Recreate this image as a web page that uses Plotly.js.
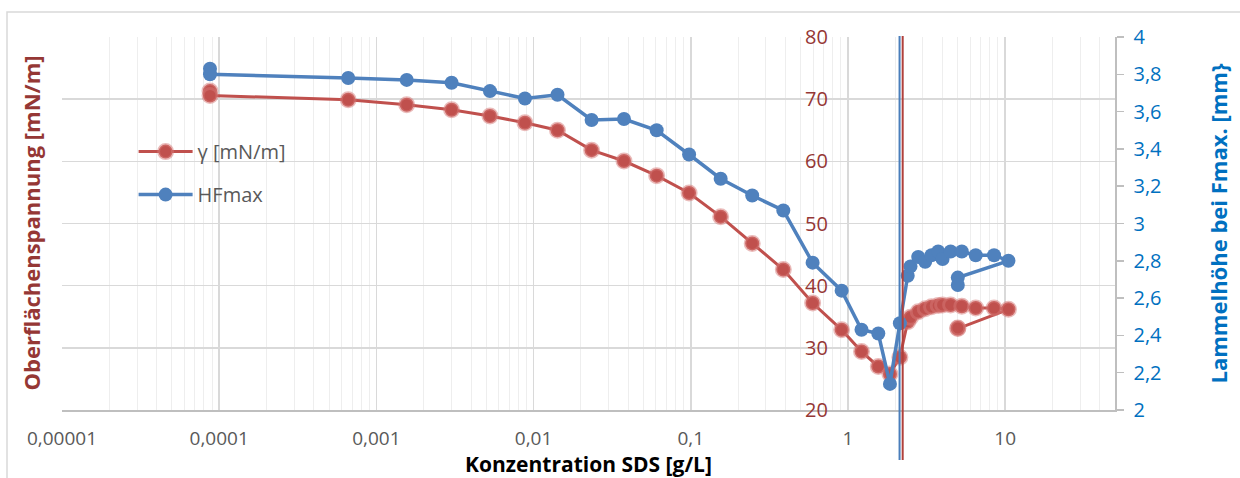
<!DOCTYPE html>
<html>
<head>
<meta charset="utf-8">
<script src="https://cdn.plot.ly/plotly-3.0.1.min.js"></script>
<style>
  html, body { margin: 0; padding: 0; background: #ffffff; }
  #chart { width: 1240px; height: 478px; }
</style>
</head>
<body>
<div id="chart"></div>
<script>
// ---- Data ----
const concentration = [
  0.0000874, 0.0000874, 0.000662, 0.00156, 0.00301, 0.00528, 0.00881, 0.0142,
  0.0234, 0.0376, 0.0607, 0.0976, 0.155, 0.246, 0.388, 0.596, 0.912,
  1.22, 1.56, 1.85, 2.14, 2.4, 2.5, 2.8, 3.1, 3.4, 3.75, 4.0, 4.5,
  5.3, 6.5, 8.5, 10.5, 5.0, 5.0
];
const gamma = [
  71.3, 70.6, 69.9, 69.1, 68.3, 67.3, 66.2, 65.0,
  61.8, 60.05, 57.7, 54.9, 51.1, 46.8, 42.6, 37.2, 32.9,
  29.4, 27.0, 25.8, 28.5, 34.2, 34.9, 35.8, 36.3, 36.6, 36.8, 36.9, 36.9,
  36.7, 36.4, 36.4, 36.2, 33.1, 33.2
];
const hfmax = [
  3.83, 3.80, 3.78, 3.77, 3.755, 3.71, 3.67, 3.69,
  3.555, 3.56, 3.50, 3.37, 3.24, 3.15, 3.07, 2.79, 2.64,
  2.43, 2.41, 2.14, 2.465, 2.72, 2.77, 2.82, 2.795, 2.83, 2.85, 2.81, 2.85,
  2.85, 2.83, 2.83, 2.80, 2.71, 2.67
];
// CMC marker lines (blue, red)
const cmcValues = [2.13, 2.23];
const cmcColors = ['#4A7EBB', '#B0403C'];

const xTickVals = [0.00001, 0.0001, 0.001, 0.01, 0.1, 1, 10];
const xTickText = ['0,00001', '0,0001', '0,001', '0,01', '0,1', '1', '10'];
const seriesNames = ['γ [mN/m]', 'HFmax'];

// ---- Layout geometry ----
const ML = 62, MR = 125, MT = 37, MB = 68, W = 1240, H = 478;
const PW = W - ML - MR, PH = H - MT - MB;
const xMin = -5, xMax = Math.log10(50);
const leftAxisPos = (0 - xMin) / (xMax - xMin); // vertical axis crosses at x = 1

const FONT = 'Open Sans, Noto Sans, sans-serif';
const RED = '#C0504D', BLUE = '#4F81BD';

const traces = [
  {
    x: concentration, y: gamma, name: seriesNames[0],
    type: 'scatter', mode: 'lines+markers', yaxis: 'y', legendgroup: 'a',
    line: { color: RED, width: 3 },
    marker: { color: RED, size: 14, line: { color: 'rgba(214,120,118,0.5)', width: 3 } },
    cliponaxis: false
  },
  {
    x: concentration, y: hfmax, name: seriesNames[1],
    type: 'scatter', mode: 'lines+markers', yaxis: 'y2', legendgroup: 'b',
    line: { color: BLUE, width: 3.5 },
    marker: { color: BLUE, size: 14 },
    cliponaxis: false
  }
];

const shapes = [
  // chart-area border
  { type: 'rect', xref: 'paper', yref: 'paper', layer: 'below',
    x0: (7 - ML) / PW, x1: (W + 20 - ML) / PW,
    y0: -(H + 20 - MT - PH) / PH, y1: 1 + (MT - 12) / PH,
    line: { color: '#d9d9d9', width: 1.5 }, fillcolor: 'rgba(0,0,0,0)' }
];
cmcValues.forEach((v, i) => {
  shapes.push({ type: 'line', xref: 'x', yref: 'paper', x0: v, x1: v,
    y0: -(460 - (MT + PH)) / PH, y1: 1 + 1 / PH,
    line: { color: cmcColors[i], width: 2 } });
});

const annotations = [
  { text: 'Oberflächenspannung [mN/m]', xref: 'paper', yref: 'paper',
    x: 0, y: 0.5, xshift: -(ML - 30), textangle: -90, showarrow: false,
    xanchor: 'center', yanchor: 'middle',
    font: { family: FONT, size: 22, color: '#953735', weight: 'bold' } },
  { text: 'Lammelhöhe bei Fmax. [mm}', xref: 'paper', yref: 'paper',
    x: 1, y: 0.5, xshift: 1217 - (W - MR), textangle: -90, showarrow: false,
    xanchor: 'center', yanchor: 'middle',
    font: { family: FONT, size: 22, color: '#0070C0', weight: 'bold' } }
];

const layout = {
  width: W, height: H,
  margin: { l: ML, r: MR, t: MT, b: MB, pad: 0 },
  paper_bgcolor: '#ffffff', plot_bgcolor: '#ffffff',
  separators: ', ',
  font: { family: FONT, color: '#595959' },
  showlegend: true,
  legend: {
    x: 0.068, y: 0.745, xanchor: 'left', yanchor: 'top',
    bgcolor: 'rgba(0,0,0,0)', traceorder: 'grouped', tracegroupgap: 14,
    itemwidth: 54,
    font: { family: FONT, size: 20, color: '#595959' }
  },
  xaxis: {
    type: 'log', range: [xMin, xMax],
    tickmode: 'array', tickvals: xTickVals, ticktext: xTickText,
    tickfont: { family: FONT, size: 19, color: '#595959' },
    ticks: '', ticklabelstandoff: 11,
    showgrid: true, gridcolor: '#d9d9d9', gridwidth: 1.5,
    minor: { dtick: 'D1', showgrid: true, gridcolor: '#eeeeee', gridwidth: 1, ticks: '' },
    showline: true, linecolor: '#bfbfbf', linewidth: 1.5,
    zeroline: false,
    title: { text: 'Konzentration SDS [g/L]', standoff: 5,
      font: { family: FONT, size: 21, color: '#000000', weight: 'bold' } }
  },
  yaxis: {
    range: [20, 80], dtick: 10, tick0: 0,
    anchor: 'free', position: leftAxisPos, side: 'left',
    tickfont: { family: FONT, size: 20, color: '#953735' },
    ticks: '', ticklabelstandoff: 20,
    showgrid: true, gridcolor: '#d9d9d9', gridwidth: 1.5,
    showline: false, zeroline: false
  },
  yaxis2: {
    range: [2, 4], dtick: 0.2, tick0: 2,
    overlaying: 'y', side: 'right', anchor: 'x',
    tickfont: { family: FONT, size: 20, color: '#0070C0' },
    ticks: 'outside', ticklen: 7, tickwidth: 1.5, tickcolor: '#bfbfbf',
    ticklabelstandoff: 6,
    showgrid: false, showline: true, linecolor: '#bfbfbf', linewidth: 1.5,
    zeroline: false
  },
  shapes: shapes,
  annotations: annotations
};

Plotly.newPlot('chart', traces, layout, { displayModeBar: false, staticPlot: true });
</script>
</body>
</html>
